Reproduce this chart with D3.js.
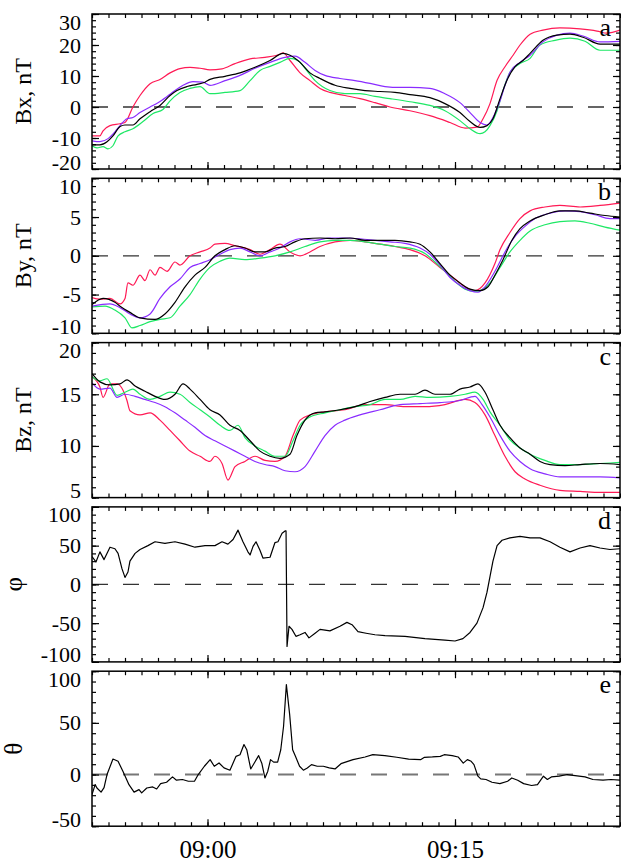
<!DOCTYPE html>
<html>
<head>
<meta charset="utf-8">
<title>B components, phi and theta</title>
<script src="https://d3js.org/d3.v7.min.js"></script>
<style>
  body { margin: 0; background: #fff; }
  svg { display: block; }
  text { font-family: 'Liberation Serif', 'Times New Roman', serif; fill: #000; }
</style>
</head>
<body>
<svg id="chart" width="621" height="863"></svg>
<script>
// time is minutes after 08:53
var bxRed = [[0,-9.3],[0.48,-9.3],[0.67,-7.7],[1.09,-6],[1.7,-5.4],[2.0,-5],[2.48,0],[2.91,3.7],[3.52,7.5],[4.12,8.9],[4.73,11],[5.33,12.4],[5.94,12.8],[6.55,12.5],[7.15,12],[7.88,12.3],[8.67,14],[9.58,15.5],[10.48,16],[11.39,17],[11.58,17.5],[12.0,15],[12.61,11],[13.21,8.5],[13.82,6],[14.42,4.7],[15.33,3.7],[16.24,2.7],[17.15,1.4],[18.06,0],[19.27,-1.2],[20.48,-2.8],[21.7,-5],[22.61,-6.8],[23.33,-6.5],[23.7,-3.8],[24.12,1.1],[24.55,8.6],[25.03,13],[25.52,16.7],[25.94,20],[26.55,23.5],[27.33,24.8],[28.36,25.5],[29.58,25.2],[30.61,24.5],[31.21,23.8],[32,24.8]];
var bxGreen = [[0,-12.5],[0.3,-13.2],[0.67,-12.8],[0.97,-13.5],[1.27,-12.5],[1.58,-9.3],[2.0,-8],[2.48,-7],[3.09,-4.7],[3.7,-2.1],[4.3,-0.8],[4.73,2],[5.33,4.7],[5.94,6],[6.55,6.6],[7.15,4.3],[8.06,4.7],[8.97,5.3],[9.58,8.5],[10.18,11.8],[10.79,13.1],[11.39,14.4],[12.0,15.7],[12.48,15],[12.91,12.5],[13.52,8.5],[14.42,5.3],[15.33,4.3],[16.24,4.3],[17.15,3.4],[18.06,2.7],[19.27,1.7],[20.48,0.5],[21.39,-1.2],[22.3,-4.4],[22.91,-7],[23.52,-8.6],[23.82,-8],[24.12,-6],[24.55,-1.2],[24.91,5.3],[25.33,11.2],[25.94,14],[26.55,15.7],[27.15,20],[28.06,21.5],[28.97,22.2],[29.88,21.2],[30.79,18.3],[32,18.3]];
var bxPurple = [[0,-10.9],[0.48,-11.2],[0.97,-10.2],[1.39,-8],[1.7,-6],[2.12,-3.8],[2.48,-3.4],[2.91,-1.8],[3.52,0],[4.0,1.4],[4.55,3.4],[5.03,5.3],[5.52,7],[6.12,8.2],[6.73,8],[7.15,7],[8.06,8.5],[8.97,10.2],[9.88,12.5],[10.79,14.4],[11.7,16],[12.3,16.4],[12.91,14.4],[13.52,11.8],[14.12,10.2],[15.03,9.2],[15.94,8.5],[16.85,7.6],[17.76,6.6],[18.67,6.3],[19.27,6.3],[20.48,6],[21.39,4.3],[22.3,1.4],[22.91,-1.8],[23.52,-5],[23.94,-5.8],[24.3,-3.4],[24.73,2],[25.03,7],[25.33,11.2],[25.94,14.4],[26.55,16.7],[27.33,21],[28.18,23.2],[28.97,23.8],[29.76,22.9],[30.79,21],[32,21.2]];
var bxBlack = [[0,-12.2],[0.48,-12.2],[0.91,-11.2],[1.27,-9.3],[1.7,-6.3],[2.0,-5.8],[2.48,-5.8],[2.91,-3.8],[3.52,-1.5],[4.12,0.5],[4.73,3.7],[5.15,5.3],[5.76,6.6],[6.36,7.3],[6.85,8],[7.15,8.9],[8.06,9.9],[8.97,11],[9.88,12.8],[10.79,15],[11.58,17.3],[12.0,16.7],[12.61,14.4],[13.21,11],[13.82,9.2],[14.73,7],[15.64,6],[16.55,5.3],[17.45,5],[18.36,4.7],[19.27,4],[20.48,3],[21.39,1.1],[22.3,-1.8],[22.91,-4.7],[23.52,-6.6],[23.94,-6],[24.3,-3.8],[24.73,2.7],[25.15,8.6],[25.64,13],[26.12,15],[26.55,17.3],[27.33,21.5],[28.18,23.2],[28.97,23.5],[29.76,22.5],[30.79,20.3],[32,20.3]];

var byRed = [[0,-5.4],[0.48,-5.6],[1.09,-5.5],[1.7,-6.2],[2.0,-5.5],[2.18,-3.5],[2.48,-3.8],[2.91,-2.5],[3.21,-3.2],[3.52,-1.8],[3.82,-2.5],[4.12,-1.5],[4.55,-2],[5.03,-0.8],[5.33,-1.2],[5.94,0],[6.55,0.5],[7.15,1],[7.45,1.5],[8.06,1.6],[8.67,1.3],[9.58,0.8],[10.18,0.2],[10.79,0.8],[11.39,1.5],[12.0,0.5],[12.61,0],[13.21,0.5],[13.82,1.2],[14.73,1.8],[15.64,2],[16.55,1.8],[17.45,1.5],[18.36,1.2],[19.27,0.8],[20.18,0],[21.09,-1.5],[22.0,-3],[22.61,-4],[23.21,-4.5],[23.82,-3.5],[24.42,-1],[24.73,0.8],[25.33,3],[25.94,4.8],[26.55,5.8],[27.45,6.3],[28.36,6.5],[29.58,6.3],[30.79,6.5],[32,6.8]];
var byGreen = [[0,-6.6],[0.79,-6.5],[1.39,-7],[2.0,-8],[2.42,-9.3],[2.91,-9],[3.52,-8.5],[4.12,-8.2],[4.73,-8],[5.33,-6.5],[5.94,-5],[6.55,-3],[7.15,-1.5],[7.76,-0.7],[8.36,-0.3],[9.27,-0.5],[10.18,-0.3],[11.09,0],[12.0,0.5],[12.91,1.2],[13.82,1.8],[14.73,2],[15.64,2],[16.55,1.8],[17.45,1.5],[18.36,1.2],[19.27,1],[20.18,0.3],[20.79,-0.8],[21.39,-2],[22.0,-3.3],[22.61,-4.3],[23.21,-4.6],[23.7,-4.3],[24.12,-3.5],[24.73,-1.5],[25.33,0.5],[25.94,2],[26.55,3.2],[27.45,4],[28.36,4.4],[29.27,4.5],[30.18,4.2],[31.09,3.7],[32,3.3]];
var byPurple = [[0,-6.5],[1.09,-6.2],[1.7,-6.7],[2.3,-7.5],[2.91,-8],[3.52,-7.5],[4.12,-5.5],[4.73,-4],[5.33,-3],[5.94,-1.5],[6.55,-1],[7.15,-0.5],[7.76,0.2],[8.36,0.8],[8.97,1],[9.58,0.5],[10.18,0],[10.79,0.5],[11.39,1],[12.0,1.8],[12.61,2.2],[13.52,2],[14.42,2.3],[15.33,2.3],[16.24,2.2],[17.15,2],[18.06,1.8],[18.97,1.6],[19.88,1],[20.48,0.2],[21.09,-1.2],[21.7,-2.8],[22.3,-3.8],[22.91,-4.5],[23.39,-4.7],[23.82,-4],[24.42,-2],[25.03,0.5],[25.64,2.5],[26.24,3.8],[26.85,4.8],[27.76,5.5],[28.67,5.8],[29.58,5.7],[30.48,5.3],[31.39,4.8],[32,4.8]];
var byBlack = [[0,-6.3],[0.67,-5.5],[1.39,-6],[1.7,-6.5],[2.3,-7.3],[2.91,-8],[3.82,-8.2],[4.42,-7.5],[5.03,-6],[5.64,-4],[6.24,-2.5],[6.85,-1.5],[7.45,0],[8.06,0.8],[8.67,1.3],[9.27,1],[9.88,0.5],[10.48,0.5],[11.09,1],[11.7,1.2],[12.3,1.8],[12.91,2.2],[13.82,2.3],[14.73,2.2],[15.64,2.3],[16.55,2],[17.45,2],[18.36,2],[19.27,1.8],[19.88,1.5],[20.48,0.5],[21.09,-1],[21.7,-2.5],[22.3,-3.5],[22.91,-4.3],[23.52,-4.5],[24.0,-4],[24.42,-2.5],[24.91,-0.5],[25.45,2],[25.94,3.5],[26.55,4.5],[27.45,5.3],[28.36,5.8],[29.27,5.8],[30.18,5.5],[31.09,5.2],[32,5]];

var bzRed = [[0,16.7],[0.48,15.7],[0.67,14.7],[1.09,16],[1.52,16],[2.12,14.4],[2.3,13.4],[2.91,13],[3.52,13.2],[4.12,12.5],[4.73,11.5],[5.33,10.5],[5.94,9.5],[6.55,9],[7.15,8.5],[7.45,9],[7.88,8.3],[8.24,6.7],[8.67,8],[9.27,8.5],[9.88,9],[10.48,8.6],[11.09,8.5],[11.7,9],[12.18,11],[12.61,12.5],[13.21,13],[14.12,13.3],[15.33,13.5],[16.55,14],[17.76,14],[18.97,13.8],[20.18,13.8],[21.39,14],[22.61,14.5],[23.21,14.2],[23.82,13],[24.42,11],[25.03,9],[25.64,7.5],[26.24,6.8],[27.15,6.2],[28.36,5.7],[29.58,5.6],[30.79,5.5],[32,5.5]];
var bzGreen = [[0,16.7],[0.48,16.3],[0.91,16.5],[1.52,14.9],[2.0,15.2],[2.48,15.5],[2.91,15],[3.52,14.5],[4.12,14.8],[4.73,15.2],[5.33,15],[5.94,14.2],[6.55,13.5],[7.15,12.8],[7.76,12],[8.36,11.5],[8.85,12],[9.27,10.8],[9.88,10],[10.48,9.5],[11.09,9],[11.7,9],[12.18,10.5],[12.61,12],[13.21,12.8],[14.12,13.2],[15.03,13.5],[15.94,13.8],[16.85,14],[17.76,14.5],[18.67,14.5],[19.58,14.8],[20.48,14.7],[21.7,14.8],[22.61,15],[23.21,15.2],[23.7,14.5],[24.12,13.3],[24.73,12],[25.33,10.6],[25.94,9.8],[26.55,9.2],[27.45,8.6],[28.36,8.2],[29.58,8.2],[30.79,8.3],[32,8.4]];
var bzPurple = [[0,16.1],[0.48,15.5],[1.09,15.6],[1.52,14.7],[2.0,15],[2.61,14.8],[3.21,14.5],[3.82,14.2],[4.42,13.8],[5.03,13.2],[5.64,12.5],[6.24,11.8],[6.85,11],[7.45,10.5],[8.06,10],[8.67,9.5],[9.27,9],[9.88,8.5],[10.48,8.2],[11.09,8],[11.7,7.6],[12.3,7.5],[12.91,8],[13.52,9.5],[14.12,11],[14.73,12],[15.33,12.5],[16.24,13],[17.45,13.5],[18.67,14],[19.88,14.1],[21.09,14.2],[22.3,14.4],[23.21,14.8],[23.64,14],[24.12,12.8],[24.73,11],[25.33,9.5],[25.94,8.5],[26.55,7.8],[27.45,7.3],[28.36,7],[29.58,7],[30.79,7],[32,6.9]];
var bzBlack = [[0,17],[0.48,16.2],[1.09,15.9],[1.7,16],[2.12,16.4],[2.61,15.8],[3.21,15.3],[3.82,14.8],[4.42,14.5],[5.03,15],[5.52,16],[5.94,15.5],[6.55,14.5],[7.15,13.5],[7.76,13],[8.36,12],[8.97,11.5],[9.58,10.5],[10.18,9.5],[10.79,9],[11.39,8.8],[12.0,9.2],[12.42,11],[12.91,12.5],[13.52,13.2],[14.12,13.3],[15.03,13.5],[15.94,13.8],[16.85,14.3],[17.76,14.7],[18.67,15],[19.58,15],[20.18,15.4],[20.79,15],[21.7,15],[22.3,15.5],[22.91,15.7],[23.39,16],[23.82,15.2],[24.3,13.5],[24.73,12],[25.33,10.8],[25.94,9.8],[26.55,9.2],[27.15,8.5],[27.76,8.2],[28.67,8.1],[29.58,8.2],[30.79,8.3],[32,8.2]];

var phi = [[0,36],[0.24,29],[0.48,42],[0.73,32],[1.09,48],[1.39,46],[1.58,40],[1.82,20],[2.0,9],[2.18,16],[2.3,30],[2.61,40],[2.91,45],[3.39,50],[3.82,55],[4.42,53],[5.03,55],[5.64,52],[6.24,48],[6.85,50],[7.45,50],[7.88,55],[8.24,52],[8.55,58],[8.85,70],[9.15,55],[9.45,42],[9.58,38],[9.76,49],[9.94,55],[10.18,44],[10.36,34],[10.79,35],[11.09,54],[11.27,55],[11.52,66],[11.7,69],[11.76,69],[11.82,-80],[11.94,-54],[12.12,-58],[12.36,-67],[12.61,-65],[12.91,-62],[13.15,-69],[13.52,-63],[13.82,-58],[14.42,-60],[15.03,-54],[15.45,-49],[15.76,-52],[16.12,-61],[16.61,-63],[17.15,-65],[17.76,-66],[18.97,-67],[20.18,-70],[21.39,-72],[22.0,-73],[22.48,-70],[22.91,-62],[23.33,-50],[23.7,-30],[23.94,-10],[24.12,10],[24.3,30],[24.55,50],[24.85,57],[25.33,60],[25.94,62],[26.55,60],[27.15,60],[27.76,55],[28.36,48],[28.97,42],[29.58,47],[30.18,50],[30.79,47],[31.39,45],[32,46]];
var theta = [[0,-19.5],[0.19,-9.8],[0.3,-13],[0.55,-17],[0.73,-12.7],[0.91,0],[1.27,15],[1.58,12.8],[1.88,3],[2.24,-9.8],[2.55,-17],[2.85,-14.6],[3.01,-17.8],[3.32,-13],[3.68,-12],[3.92,-14],[4.16,-8.8],[4.52,-7.5],[4.88,-2.3],[5.12,-5.5],[5.48,-4.8],[5.84,-6.5],[6.21,-6.5],[6.44,0],[6.81,8],[7.16,14.4],[7.41,8],[7.7,11.2],[8.0,6.4],[8.36,4.2],[8.73,17.6],[8.97,19.2],[9.21,29],[9.38,24],[9.62,5.4],[9.81,10.5],[10.1,18.3],[10.29,11],[10.48,-3.3],[10.65,3],[10.82,14.4],[11.01,12],[11.25,12],[11.44,24],[11.61,46.7],[11.78,87],[11.98,58],[12.16,24],[12.33,17.6],[12.58,8],[12.81,4.2],[13.05,6.4],[13.3,9.6],[13.65,8],[14.02,8],[14.38,6.4],[14.73,5.4],[15.09,10.5],[15.82,14.4],[16.55,17],[17.02,19.2],[17.75,18.3],[18.47,16.7],[19.19,15],[19.91,14.4],[20.15,16.7],[20.63,17],[21.11,17.6],[21.35,19.2],[21.83,18.3],[22.19,17],[22.5,11],[22.75,14.4],[22.98,12.8],[23.15,9.6],[23.39,-1.6],[23.56,-4.2],[23.88,-4.8],[24.24,-7.5],[24.72,-8.8],[25.19,-6.5],[25.44,-3.3],[25.8,-5.5],[26.16,-8.8],[26.64,-10.6],[27.0,-9.8],[27.36,-1.6],[27.6,-4.8],[27.84,-2.3],[28.32,-1.6],[28.8,0],[29.28,-1],[29.88,-2.3],[30.36,-4.8],[30.97,-5.5],[31.45,-4.8],[32,-5.5]];

var panelTitles = ["Bx, nT", "By, nT", "Bz, nT", "\u03c6", "\u03b8"];
var panelLetters = ["a", "b", "c", "d", "e"];
var yDomains = [[-20, 30], [-10, 10], [5, 20], [-100, 100], [-50, 100]];
var yMajor = [[-20, -10, 0, 10, 20, 30], [-10, -5, 0, 5, 10], [5, 10, 15, 20], [-100, -50, 0, 50, 100], [-50, 0, 50, 100]];
var yMinorStep = [2, 1, 1, 10, 10];

var colors = { red: "#ff1a55", green: "#1ee865", purple: "#8a2cff", black: "#000" };
var panelSeries = [
  [["red", bxRed], ["green", bxGreen], ["purple", bxPurple], ["black", bxBlack]],
  [["red", byRed], ["green", byGreen], ["purple", byPurple], ["black", byBlack]],
  [["red", bzRed], ["green", bzGreen], ["purple", bzPurple], ["black", bzBlack]],
  [["black", phi]],
  [["black", theta]]
];

var svg = d3.select("#chart");
var left = 92, right = 620, top0 = 14, ph = 155, step = 164.3;
var t0 = new Date(2000, 0, 1, 8, 53);
var t1 = new Date(2000, 0, 1, 9, 25);
var toDate = function (m) { return new Date(+t0 + m * 60000); };

var x = d3.scaleTime().domain([t0, t1]).range([left, right]);
var minorT = d3.timeMinute.every(1).range(t0, new Date(+t1 + 1));
var majorT = d3.timeMinute.every(15).range(t0, new Date(+t1 + 1));

panelTitles.forEach(function (title, i) {
  var top = top0 + i * step;
  var g = svg.append("g").attr("transform", "translate(0," + top + ")");
  var y = d3.scaleLinear().domain(yDomains[i]).range([ph, 0]);
  var dom = yDomains[i];
  var minors = d3.range(dom[0], dom[1] + 0.001, yMinorStep[i]);

  g.append("clipPath").attr("id", "clip" + i)
    .append("rect").attr("x", left).attr("y", 0).attr("width", right - left).attr("height", ph);

  // zero line
  if (dom[0] < 0) {
    g.append("line")
      .attr("x1", left).attr("x2", right)
      .attr("y1", y(0)).attr("y2", y(0))
      .attr("stroke", i == 4 ? "#777" : "#333")
      .attr("stroke-width", i == 4 ? 2 : 1.3)
      .attr("stroke-dasharray", "16,15");
  }

  var line = d3.line()
    .x(function (d) { return x(toDate(d[0])); })
    .y(function (d) { return y(d[1]); })
    .curve(i < 3 ? d3.curveMonotoneX : d3.curveLinear);

  panelSeries[i].forEach(function (s) {
    g.append("path")
      .attr("clip-path", "url(#clip" + i + ")")
      .attr("d", line(s[1]))
      .attr("fill", "none")
      .attr("stroke", colors[s[0]])
      .attr("stroke-width", 1.2)
      .attr("stroke-linejoin", "round");
  });

  // y axes, ticks inward
  var yl = g.append("g").attr("transform", "translate(" + left + ",0)")
    .call(d3.axisLeft(y).tickValues(yMajor[i]).tickSize(-7).tickPadding(11).tickFormat(function (d) { return String(d); }));
  yl.selectAll("text").attr("font-size", 22)
    .attr("y", function (d) { return d == dom[1] ? 8 : (d == dom[0] ? -7 : 0); });
  g.append("g").attr("transform", "translate(" + left + ",0)")
    .call(d3.axisLeft(y).tickValues(minors).tickSize(-4).tickFormat(""));
  g.append("g").attr("transform", "translate(" + right + ",0)")
    .call(d3.axisRight(y).tickValues(yMajor[i]).tickSize(-7).tickFormat(""));
  g.append("g").attr("transform", "translate(" + right + ",0)")
    .call(d3.axisRight(y).tickValues(minors).tickSize(-4).tickFormat(""));

  // x axes on top and bottom
  var xb = g.append("g").attr("transform", "translate(0," + ph + ")")
    .call(d3.axisBottom(x).tickValues(majorT).tickSize(-7).tickPadding(14)
      .tickFormat(i == 4 ? d3.timeFormat("%H:%M") : ""));
  xb.selectAll("text").attr("font-size", 25);
  g.append("g").attr("transform", "translate(0," + ph + ")")
    .call(d3.axisBottom(x).tickValues(minorT).tickSize(-4).tickFormat(""));
  g.append("g").call(d3.axisTop(x).tickValues(majorT).tickSize(-7).tickFormat(""));
  g.append("g").call(d3.axisTop(x).tickValues(minorT).tickSize(-4).tickFormat(""));

  g.selectAll(".domain").remove();
  g.selectAll(".tick line").attr("stroke", "#000").attr("stroke-width", 1.2);
  g.selectAll(".tick text").attr("font-family", "'Liberation Serif', serif").attr("fill", "#000");

  g.append("rect")
    .attr("x", left).attr("y", 0).attr("width", right - left).attr("height", ph)
    .attr("fill", "none").attr("stroke", "#000").attr("stroke-width", 1.5);

  var greek = i > 2;
  g.append("text")
    .attr("transform", "translate(" + (greek ? 22 : 31) + "," + (ph / 2) + ") rotate(-90)")
    .attr("text-anchor", "middle")
    .attr("font-size", greek ? 25 : 24)
    .text(title);

  g.append("text")
    .attr("x", 611).attr("y", 22)
    .attr("text-anchor", "end")
    .attr("font-size", 26)
    .text(panelLetters[i]);
});
</script>
</body>
</html>
